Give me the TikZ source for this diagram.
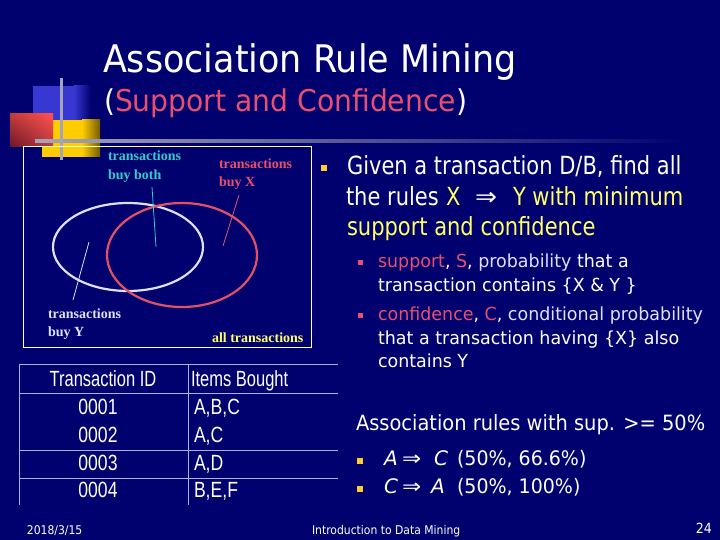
\documentclass[tikz,border=0pt]{standalone}
\usepackage{fontspec}
\usepackage{graphicx}
\usetikzlibrary{shadings}
\setmainfont{DejaVu Sans}
\newfontfamily\tabf{Liberation Sans}
\newfontfamily\venf{Liberation Serif}
\definecolor{bg}{RGB}{0,0,110}
\definecolor{pinkc}{RGB}{232,80,110}
\definecolor{yelc}{RGB}{255,255,102}
\definecolor{goldc}{RGB}{255,204,51}
\definecolor{lavc}{RGB}{224,224,255}
\definecolor{cyanc}{RGB}{51,204,204}
\definecolor{redell}{RGB}{230,80,100}
\definecolor{tabline}{RGB}{176,176,224}
\definecolor{grayl}{RGB}{165,165,185}
\definecolor{lblue}{RGB}{55,55,210}
\definecolor{lyel}{RGB}{255,204,0}
\definecolor{lred}{RGB}{255,80,80}
\definecolor{dred}{RGB}{110,20,40}
\definecolor{boxy}{RGB}{255,255,190}
\newcommand{\hs}[2]{\scalebox{#1}[1]{#2}}
\newcommand{\fs}[1]{\fontsize{#1}{#1}\selectfont}
\begin{document}
\begin{tikzpicture}[x=1pt,y=-1pt,
  txt/.style={anchor=base west, inner sep=0pt, outer sep=0pt},
  txtc/.style={anchor=base, inner sep=0pt, outer sep=0pt},
  txte/.style={anchor=base east, inner sep=0pt, outer sep=0pt},
  venn/.style={txt, font=\venf\bfseries\fs{14}},
  tab/.style={txt, font=\tabf\fs{22}, text=white},
  tabc/.style={txtc, font=\tabf\fs{22}, text=white},
  big/.style={txt, font=\fs{25}},
  rule/.style={txt, font=\fs{20}, text=white},
  bul/.style={fill=goldc, minimum size=6.5pt, inner sep=0pt, outer sep=0pt},
  subbul/.style={fill=pinkc, minimum size=5pt, inner sep=0pt, outer sep=0pt},
  tl/.style={draw=tabline, line width=1pt}]
\fill[bg] (0,0) rectangle (720,540);
\useasboundingbox (0,0) rectangle (720,540);

% ---------- logo ----------
\fill[lblue] (33,86) rectangle (74,135);
\shade[left color=lblue, right color=bg] (74,86) rectangle (91,135);
\fill[lyel] (42,120) rectangle (82,157);
\shade[left color=lyel, right color=lyel!45!black] (82,120) rectangle (100,157);
\shade[upper right=lred, upper left=lred!75!black, lower right=lred!75!black, lower left=dred] (10,114) rectangle (53,147);
\shade[left color=grayl, right color=bg] (35,139.5) rectangle (690,142.5);
\fill[grayl] (60,78) rectangle (63,160);

% ---------- title ----------
\node[txt, text=white] (title) at (103,73) {\fs{38}\hs{0.92}{Association Rule Mining}};
\node[txt] (subtitle) at (104,112) {\fs{30}\hs{0.94}{\textcolor{white}{(}\textcolor{pinkc}{Support and Confidence}\textcolor{white}{)}}};

% ---------- venn ----------
\draw[boxy, line width=0.8pt] (23,146) rectangle (311,347);
\draw[lavc, line width=2.2pt] (128,247) ellipse [x radius=75, y radius=44];
\draw[redell, line width=2.2pt] (182,255) ellipse [x radius=75, y radius=52];
\node[venn, text=cyanc] (both1) at (108,161) {transactions};
\node[venn, text=cyanc] (both2) at (108,180) {buy both};
\node[venn, text=pinkc] (x1) at (219,169) {transactions};
\node[venn, text=pinkc] (x2) at (219,187) {buy X};
\node[venn, text=lavc] (y1) at (48,318) {transactions};
\node[venn, text=lavc] (y2) at (48,336) {buy Y};
\node[venn, text=yelc] (all) at (212,342) {all transactions};
\coordinate (pb1) at (152,187); \coordinate (pb2) at (156,247);
\coordinate (px1) at (239,195); \coordinate (px2) at (223,246);
\coordinate (py1) at (89,242);  \coordinate (py2) at (73,300);
\draw[cyanc, line width=0.8pt] (pb1) -- (pb2);
\draw[pinkc, line width=0.8pt] (px1) -- (px2);
\draw[lavc, line width=0.8pt] (py1) -- (py2);

% ---------- table ----------
\draw[tl] (19,364) -- (338,364);
\draw[tl] (19,393) -- (338,393);
\draw[tl] (19,450) -- (338,450);
\draw[tl] (19,478) -- (338,478);
\draw[tl] (19,364) -- (19,505);
\draw[tl] (188,364) -- (188,505);
\node[tabc] (h1) at (103,386) {\hs{0.75}{Transaction ID}};
\node[tab] (h2) at (191,386) {\hs{0.75}{Items Bought}};
\node[tabc] (r1a) at (98,414) {\hs{0.8}{0001}};
\node[tabc] (r2a) at (98,442) {\hs{0.8}{0002}};
\node[tabc] (r3a) at (98,470) {\hs{0.8}{0003}};
\node[tabc] (r4a) at (98,497) {\hs{0.8}{0004}};
\node[tab] (r1b) at (194,414) {\hs{0.8}{A,B,C}};
\node[tab] (r2b) at (194,442) {\hs{0.8}{A,C}};
\node[tab] (r3b) at (194,470) {\hs{0.8}{A,D}};
\node[tab] (r4b) at (194,497) {\hs{0.8}{B,E,F}};

% ---------- right text ----------
\node[bul] (b1) at (324,168) {};
\node[big, text=white] (l1) at (347,175) {\hs{0.84}{Given a transaction D/B, find all}};
\node[big, text=white] (l2) at (346,206) {\hs{0.84}{the rules}};
\node[big, text=yelc] (l2x) at (446,206) {\hs{0.84}{X}};
\node[big, text=white] (l2i) at (475,206) {\hs{1.05}{⇒}};
\node[big, text=yelc] (l2y) at (513,206) {\hs{0.84}{Y with minimum}};
\node[big, text=yelc] (l3) at (347,236) {\hs{0.84}{support and confidence}};

\node[subbul] (s1) at (360,262) {};
\node[txt, text=white] (s1a) at (378,267) {\fs{18}\hs{0.97}{\textcolor{pinkc}{support}, \textcolor{pinkc}{S}, \textcolor{lavc}{probability} that a}};
\node[txt, text=white] (s1b) at (378,291) {\fs{18}\hs{0.97}{transaction contains \{X \& Y \}}};
\node[subbul] (s2) at (360,315) {};
\node[txt, text=white] (s2a) at (378,320) {\fs{18}\hs{0.97}{\textcolor{pinkc}{confidence}, \textcolor{pinkc}{C}, \textcolor{lavc}{conditional probability}}};
\node[txt, text=white] (s2b) at (378,344) {\fs{18}\hs{0.97}{that a transaction having \{X\} also}};
\node[txt, text=white] (s2c) at (378,367) {\fs{18}\hs{0.97}{contains Y}};

\node[txt, text=white] (assoc) at (356,430) {\fs{21}\hs{0.925}{Association rules with sup. >= 50\%}};
\node[bul] (b2) at (360,461) {};
\node[rule] (r1l) at (384,465) {\textit{A}};
\node[rule] (r1i) at (402,465) {\hs{1.15}{⇒}};
\node[rule] (r1r) at (434,465) {\textit{C}};
\node[rule] (r1v) at (457,465) {\hs{0.95}{(50\%, 66.6\%)}};
\node[bul] (b3) at (360,489) {};
\node[rule] (r2l) at (384,493) {\textit{C}};
\node[rule] (r2i) at (402,493) {\hs{1.15}{⇒}};
\node[rule] (r2r) at (431,493) {\textit{A}};
\node[rule] (r2v) at (457,493) {\hs{0.95}{(50\%, 100\%)}};

% ---------- footer ----------
\node[txt, text=white] (date) at (27,534) {\fs{12}\hs{0.9}{2018/3/15}};
\node[txt, text=white] (course) at (312,534) {\fs{12}\hs{0.9}{Introduction to Data Mining}};
\node[txte, text=white] (page) at (712,533) {\fs{14}\hs{0.9}{24}};
\end{tikzpicture}
\end{document}
